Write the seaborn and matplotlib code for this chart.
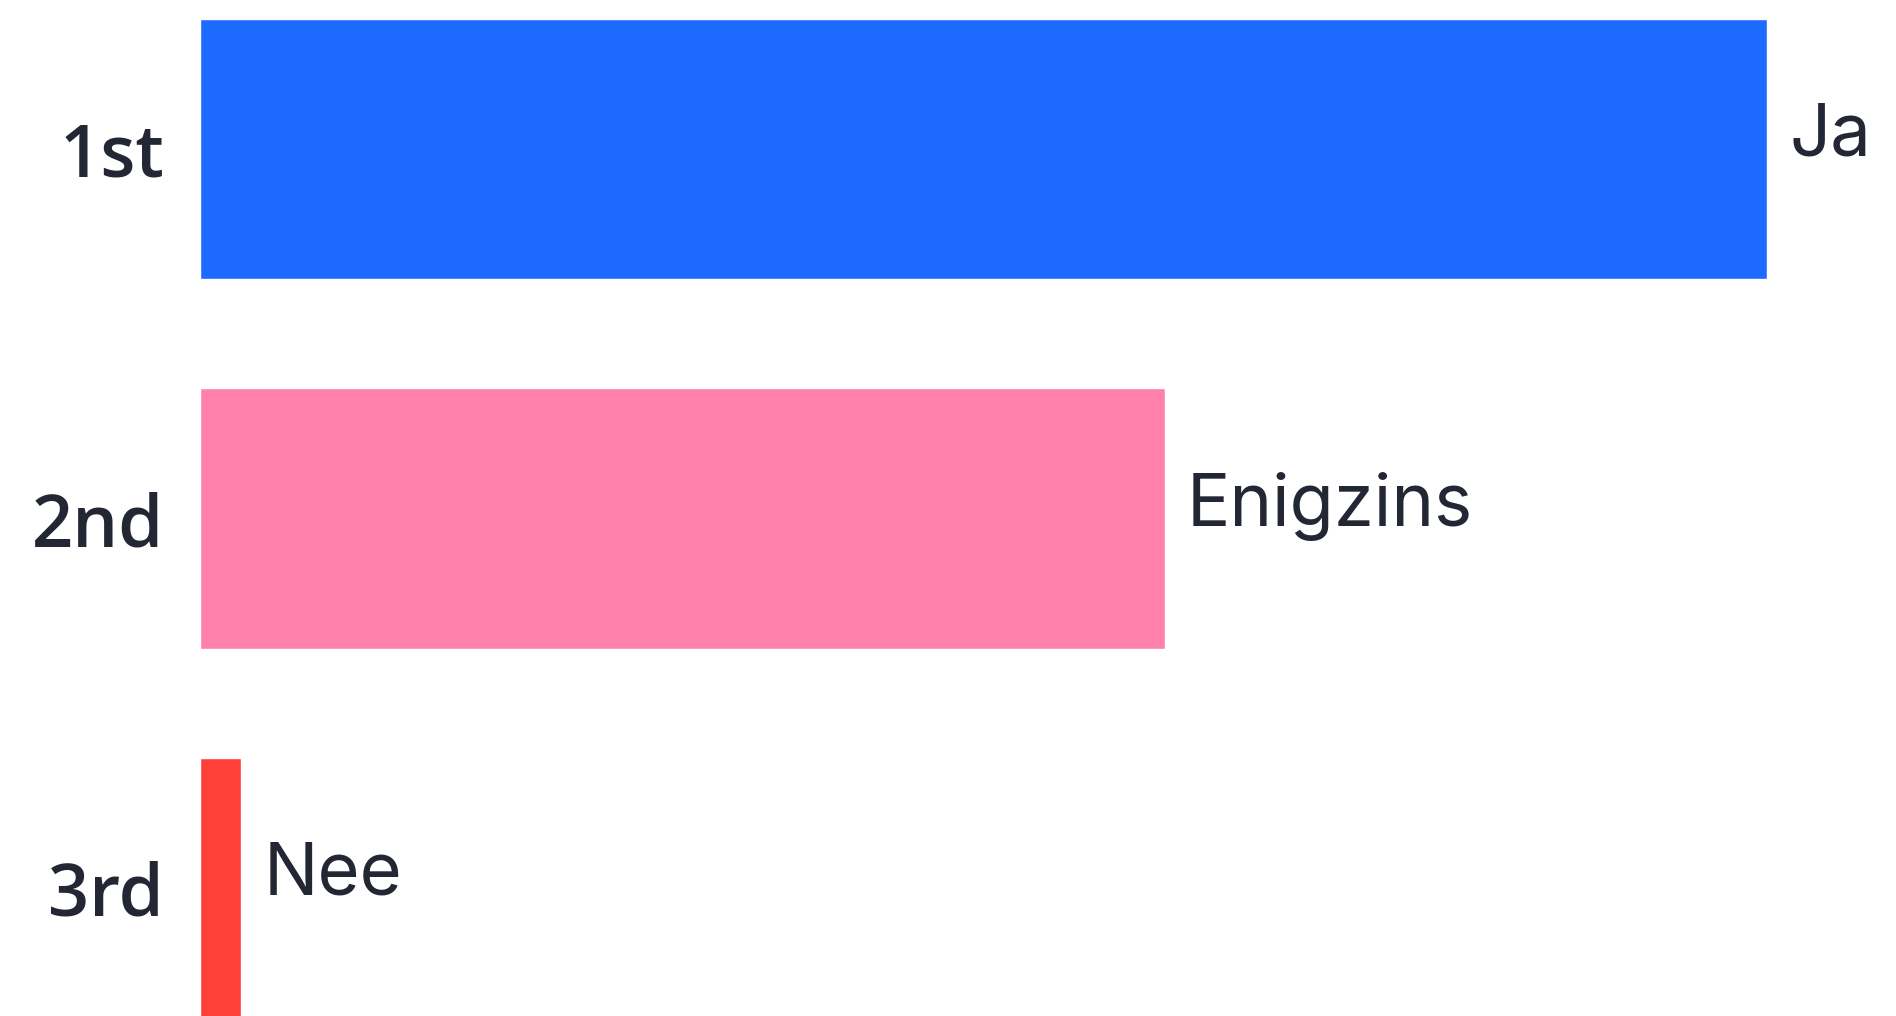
import pandas as pd
import seaborn as sns
import matplotlib.pyplot as plt

# data
ranks = ["1st", "2nd", "3rd"]
answers = ["Ja", "Enigzins", "Nee"]
votes = [60.9, 37.5, 1.6]
colors = ["#1c6bfe", "#ff80aa", "#ff403a"]

df = pd.DataFrame({"rank": ranks, "answer": answers, "votes": votes})

sns.set_style("white")
plt.rcParams["font.family"] = ["Inter", "DejaVu Sans"]

fig = plt.figure(figsize=(18.96, 10.16), dpi=100)
ax = fig.add_axes([200 / 1896, 0, 1696 / 1896, 1])

sns.barplot(data=df, x="votes", y="rank", hue="rank", palette=colors,
            orient="h", width=0.705, legend=False, ax=ax, saturation=1)

# value labels next to the bars
for i, (v, txt) in enumerate(zip(votes, answers)):
    ax.annotate(txt, xy=(v, i), xytext=(16, 9), textcoords="offset points",
                ha="left", va="center", fontsize=52, color="#222733")

ax.set_xlim(0, 65.92)
ax.set_ylim(2.347, -0.404)
ax.set_xlabel("")
ax.set_ylabel("")
ax.set_xticks([])
ax.tick_params(axis="y", length=0, pad=26, labelsize=52, labelcolor="#222733")
for lab in ax.get_yticklabels():
    lab.set_family(["Open Sans", "DejaVu Sans"])
    lab.set_fontweight("semibold")
sns.despine(ax=ax, left=True, bottom=True)

fig.savefig("out.png", dpi=100)
